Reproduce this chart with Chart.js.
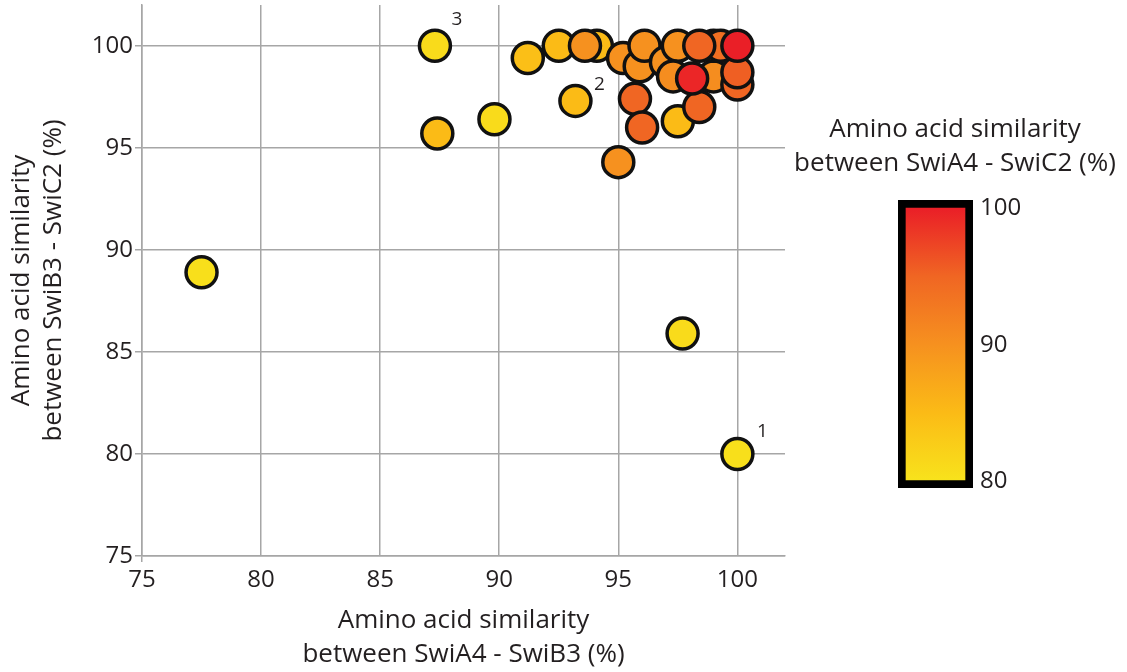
<!DOCTYPE html>
<html><head><meta charset="utf-8">
<script src="https://cdn.jsdelivr.net/npm/chart.js@4"></script>
<style>
html,body{margin:0;padding:0;background:#fff;}
#wrap{position:relative;width:1127px;height:672px;overflow:hidden;}
#c1box{position:absolute;left:0;top:0;width:800px;height:672px;}
#c2box{position:absolute;left:790px;top:90px;width:330px;height:420px;}
</style></head><body>
<div id="wrap"><div id="c1box"><canvas id="c1"></canvas></div><div id="c2box"><canvas id="c2"></canvas></div></div>
<script>
// Amino acid similarity between SwiA4 - SwiB3 (%)  (x)
const simA4B3 = [77.5, 87.3, 87.4, 89.8, 91.2, 92.5, 93.2, 94.1, 93.6, 95.0, 95.2, 95.9, 96.1, 97.0, 97.5, 97.3, 95.7, 96.0, 97.5, 97.7, 98.4, 98.4, 99.0, 99.0, 99.3, 98.1, 100.0, 100.0, 100.0, 100.0];
// Amino acid similarity between SwiB3 - SwiC2 (%)  (y)
const simB3C2 = [88.9, 100.0, 95.7, 96.4, 99.4, 100.0, 97.3, 100.0, 100.0, 94.3, 99.4, 99.0, 100.0, 99.2, 100.0, 98.5, 97.4, 96.0, 96.3, 85.9, 97.0, 100.0, 98.5, 100.0, 100.0, 98.4, 100.0, 98.7, 98.1, 80.0];
// Amino acid similarity between SwiA4 - SwiC2 (%)  (colour)
const simA4C2 = [80.5, 81, 85, 81, 84.5, 85, 85, 85, 90, 90, 90, 90, 90, 90, 90, 90.5, 95, 95, 85, 81, 95, 95, 90.5, 90.5, 94, 99.5, 100, 95.5, 95, 80.5];

const axisTicks = [75, 80, 85, 90, 95, 100];
const colorbarTicks = [80, 90, 100];
const colorStopValues = [80, 85, 90, 95, 100];
const colorStopHex = ['#f8e31c', '#fbbb16', '#f6911f', '#f06623', '#ea1f27'];

const labelText = ['1', '2', '3'];
const labelPoint = [29, 6, 1];

const FONT = "'Open Sans', sans-serif";
const TXT = '#231f20';

function hexToRgb(h){ return [parseInt(h.substr(1,2),16), parseInt(h.substr(3,2),16), parseInt(h.substr(5,2),16)]; }
function colorFor(v){
  if (v <= colorStopValues[0]) return colorStopHex[0];
  for (let i = 1; i < colorStopValues.length; i++) {
    if (v <= colorStopValues[i]) {
      const t = (v - colorStopValues[i-1]) / (colorStopValues[i] - colorStopValues[i-1]);
      const a = hexToRgb(colorStopHex[i-1]), b = hexToRgb(colorStopHex[i]);
      const c = a.map((x, k) => Math.round(x + (b[k] - x) * t));
      return `rgb(${c[0]},${c[1]},${c[2]})`;
    }
  }
  return colorStopHex[colorStopHex.length - 1];
}

// draw order: low values first so redder points sit on top
const order = simA4C2.map((v, i) => i).sort((a, b) => simA4C2[a] - simA4C2[b]);
const points = order.map(i => ({x: simA4B3[i], y: simB3C2[i]}));
const colors = order.map(i => colorFor(simA4C2[i]));

const labelOffsets = {'1': [25, -22], '2': [24, -16], '3': [22, -26]};
const pointLabels = {
  id: 'pointLabels',
  afterDatasetsDraw(chart){
    const {ctx, scales} = chart;
    ctx.save();
    ctx.font = '19px ' + FONT;
    ctx.fillStyle = TXT;
    ctx.textAlign = 'center';
    ctx.textBaseline = 'middle';
    labelText.forEach((t, k) => {
      const i = labelPoint[k];
      const px = scales.x.getPixelForValue(simA4B3[i]);
      const py = scales.y.getPixelForValue(simB3C2[i]);
      const o = labelOffsets[t];
      ctx.fillText(t, px + o[0], py + o[1]);
    });
    ctx.restore();
  }
};

const gridCol = '#a6a6a6';
new Chart(document.getElementById('c1'), {
  type: 'scatter',
  data: { datasets: [{
    data: points,
    backgroundColor: colors,
    borderColor: '#111',
    borderWidth: 3.5,
    pointRadius: 15.5,
    pointHoverRadius: 15.5,
    clip: false
  }]},
  options: {
    responsive: true, maintainAspectRatio: false, animation: false,
    layout: { autoPadding: false, padding: { top: 5, right: 15, left: 0, bottom: 0 } },
    plugins: { legend: { display: false }, tooltip: { enabled: false } },
    scales: {
      x: {
        type: 'linear', min: 75, max: 102,
        afterFit(s){ s.height = 116; s.paddingLeft = 0; s.paddingRight = 0; },
        afterBuildTicks(s){ s.ticks = axisTicks.map(v => ({value: v})); },
        grid: { color: gridCol, lineWidth: 1.5, tickLength: 6,
                tickColor: c => (c.tick && c.tick.value === axisTicks[0]) ? gridCol : 'rgba(0,0,0,0)' },
        border: { color: gridCol, width: 1.5 },
        ticks: { font: { family: FONT, size: 24 }, color: TXT, padding: 4 },
        title: { display: true, text: ['Amino acid similarity', 'between SwiA4 - SwiB3 (%)'],
                 font: { family: FONT, size: 26, lineHeight: 1.31 }, color: TXT, padding: { top: 0, bottom: 0 } }
      },
      y: {
        type: 'linear', min: 75, max: 102,
        afterFit(s){ s.width = 142; s.paddingTop = 0; s.paddingBottom = 0; },
        afterBuildTicks(s){ s.ticks = axisTicks.map(v => ({value: v})); },
        grid: { color: gridCol, lineWidth: 1.5, tickLength: 7 },
        border: { color: gridCol, width: 1.5 },
        ticks: { font: { family: FONT, size: 24 }, color: TXT, padding: 2 },
        title: { display: true, text: ['Amino acid similarity', 'between SwiB3 - SwiC2 (%)'],
                 font: { family: FONT, size: 26, lineHeight: 1.25 }, color: TXT, padding: { top: 5, bottom: 0 } }
      }
    }
  },
  plugins: [pointLabels]
});

const cbMin = colorbarTicks[0], cbMax = colorbarTicks[colorbarTicks.length - 1];
new Chart(document.getElementById('c2'), {
  type: 'bar',
  data: { labels: [''], datasets: [{
    data: [[cbMin - 0.5, cbMax + 0.6]],
    xAxisID: 'x', yAxisID: 'y',
    backgroundColor(ctx){
      const chart = ctx.chart; const ys = chart.scales.y;
      if (!ys || !chart.chartArea) return colorStopHex[0];
      const y0 = ys.getPixelForValue(cbMin), y1 = ys.getPixelForValue(cbMax);
      const g = chart.ctx.createLinearGradient(0, y0, 0, y1);
      colorStopValues.forEach((v, k) => g.addColorStop((v - cbMin) / (cbMax - cbMin), colorStopHex[k]));
      return g;
    },
    borderColor: '#000', borderWidth: 8, borderSkipped: false,
    barPercentage: 1, categoryPercentage: 1
  }]},
  options: {
    responsive: true, maintainAspectRatio: false, animation: false,
    layout: { autoPadding: false, padding: { left: 0, right: 0, top: 0, bottom: 22 } },
    plugins: {
      legend: { display: false }, tooltip: { enabled: false },
      title: { display: true, text: ['Amino acid similarity', 'between SwiA4 - SwiC2 (%)'],
               font: { family: FONT, size: 26, weight: 'normal', lineHeight: 1.31 }, color: TXT,
               padding: { top: 23, bottom: 19 } }
    },
    scales: {
      x: { type: 'category', display: false },
      y: {
        type: 'linear', position: 'right', min: cbMin - 0.5, max: cbMax + 0.6,
        afterFit(s){ s.width = 147; s.paddingTop = 0; s.paddingBottom = 0; },
        afterBuildTicks(s){ s.ticks = colorbarTicks.map(v => ({value: v})); },
        grid: { display: false, drawTicks: false },
        border: { display: false },
        ticks: { font: { family: FONT, size: 24 }, color: TXT, padding: 7 }
      },
      yLeft: {
        type: 'linear', position: 'left', display: true, min: 0, max: 1,
        afterFit(s){ s.width = 108; s.paddingTop = 0; s.paddingBottom = 0; },
        grid: { display: false, drawTicks: false }, border: { display: false },
        ticks: { display: false }
      }
    }
  }
});
</script>
</body></html>
